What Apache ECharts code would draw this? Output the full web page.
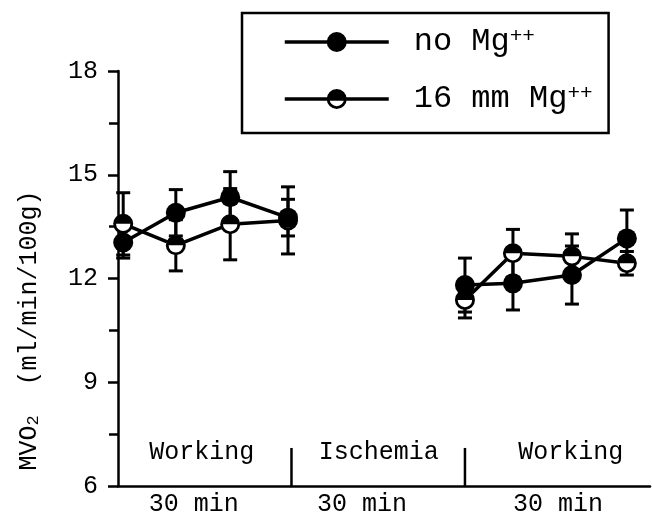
<!DOCTYPE html>
<html>
<head>
<meta charset="utf-8">
<script src="https://cdn.jsdelivr.net/npm/echarts@6/dist/echarts.min.js"></script>
<style>
  html, body { margin: 0; padding: 0; background: #fff; }
  #chart { width: 652px; height: 521px; }
</style>
</head>
<body>
<div id="chart"></div>
<script>
// Myocardial O2 consumption, mean ± error, sampled through working / ischemia / working periods
const sampleMinutes = [0.9, 10, 19.4, 29.4, 60, 68.3, 78.5, 88];
const noMgMean = [13.04, 13.9, 14.35, 13.76, 11.81, 11.86, 12.1, 13.16];
const noMgErr  = [0.45, 0.67, 0.74, 0.53, 0.78, 0.77, 0.84, 0.82];
const mg16Mean = [13.58, 12.96, 13.57, 13.68, 11.38, 12.73, 12.64, 12.44];
const mg16Err  = [0.9, 0.74, 1.03, 0.97, 0.52, 0.69, 0.65, 0.34];
const seriesNames = ['no Mg++', '16 mm Mg++'];

const phaseNames = ['Working', 'Ischemia', 'Working'];
const phaseLabelMinutes = [14.5, 45.1, 78.3];
const phaseBoundaries = [30, 60];
const durationLabels = ['30 min', '30 min', '30 min'];
const durationLabelMinutes = [13.1, 42.2, 76.1];

const FONT = '"Liberation Mono", "DejaVu Sans Mono", monospace';
const INK = '#000';

// ring with the upper half filled
const HALF_FILLED =
  'path://M0,50A50,50,0,1,1,100,50A50,50,0,1,1,0,50Z' +
  'M14,50A36,36,0,1,0,86,50A36,36,0,1,0,14,50Z' +
  'M14,50A36,36,0,0,1,86,50Z';

function points(means) {
  return sampleMinutes.map((m, i) => [m, means[i]]);
}

// polyline data with a break across the ischemic period
function lineData(means) {
  const out = [];
  sampleMinutes.forEach((m, i) => {
    if (i > 0 && m - sampleMinutes[i - 1] > 20) out.push([m, '-']);
    out.push([m, means[i]]);
  });
  return out;
}

function errorBars(means, errs, z) {
  return {
    type: 'custom',
    z: z,
    silent: true,
    data: sampleMinutes.map((m, i) => [m, means[i] - errs[i], means[i] + errs[i]]),
    encode: { x: 0, y: [1, 2] },
    renderItem(params, api) {
      const x = api.value(0);
      const lo = api.coord([x, api.value(1)]);
      const hi = api.coord([x, api.value(2)]);
      const w = 7;
      const style = { stroke: INK, lineWidth: 3 };
      return {
        type: 'group',
        children: [
          { type: 'line', shape: { x1: lo[0], y1: lo[1], x2: hi[0], y2: hi[1] }, style },
          { type: 'line', shape: { x1: lo[0] - w, y1: lo[1], x2: lo[0] + w, y2: lo[1] }, style },
          { type: 'line', shape: { x1: hi[0] - w, y1: hi[1], x2: hi[0] + w, y2: hi[1] }, style }
        ]
      };
    }
  };
}

const chart = echarts.init(document.getElementById('chart'), null, { renderer: 'canvas' });

chart.setOption({
  animation: false,
  backgroundColor: '#fff',
  grid: { left: 118, right: 2, top: 71, bottom: 35 },
  legend: {
    data: seriesNames,
    orient: 'vertical',
    left: 242,
    top: 13,
    itemWidth: 104,
    itemHeight: 25,
    itemGap: 25,
    padding: [13, 16, 18, 41],
    borderColor: INK,
    borderWidth: 2.5,
    selectedMode: false,
    lineStyle: { color: INK, width: 3.5 },
    formatter: (name) => '{g| }{t|' + name.replace('++', '') + '}{s|++}',
    textStyle: {
      color: INK,
      rich: {
        g: { width: 20, fontSize: 32, fontFamily: FONT },
        t: { fontSize: 32, fontFamily: FONT, color: INK },
        s: { fontSize: 21, fontFamily: FONT, color: INK, verticalAlign: 'top' }
      }
    }
  },
  xAxis: {
    type: 'value',
    min: 0,
    max: 92,
    axisLine: { show: true, lineStyle: { color: INK, width: 2.5 } },
    axisTick: { show: false },
    splitLine: { show: false },
    axisLabel: {
      customValues: durationLabelMinutes,
      formatter: (v) => {
        const i = durationLabelMinutes.indexOf(v);
        return i >= 0 ? durationLabels[i] : '';
      },
      color: INK,
      fontFamily: FONT,
      fontSize: 25,
      margin: 6
    }
  },
  yAxis: {
    type: 'value',
    min: 6,
    max: 18,
    interval: 3,
    axisLine: { show: true, lineStyle: { color: INK, width: 2.5 } },
    axisTick: { show: true, length: 10, lineStyle: { color: INK, width: 2.5 } },
    minorTick: { show: true, splitNumber: 2, length: 9, lineStyle: { color: INK, width: 2.5 } },
    splitLine: { show: false },
    axisLabel: { color: INK, fontFamily: FONT, fontSize: 25, margin: 20 },
    name: '{a|MVO}{b|2}{a|  (ml/min/100g)}',
    nameLocation: 'middle',
    nameRotate: 90,
    nameGap: 76,
    nameTextStyle: {
      padding: [0, 104, 0, 0],
      rich: {
        a: { fontSize: 25, fontFamily: FONT, color: INK },
        b: { fontSize: 17, fontFamily: FONT, color: INK, verticalAlign: 'bottom' }
      }
    }
  },
  series: [
    // phase separators rising from the time axis
    {
      type: 'custom',
      z: 2,
      silent: true,
      data: phaseBoundaries.map((b) => [b]),
      encode: { x: 0 },
      renderItem(params, api) {
        const b = api.value(0);
        const p0 = api.coord([b, 6]);
        const p1 = api.coord([b, 7.1]);
        return {
          type: 'line',
          shape: { x1: p0[0], y1: p0[1], x2: p1[0], y2: p1[1] },
          style: { stroke: INK, lineWidth: 2.5 }
        };
      }
    },
    // phase names
    {
      type: 'custom',
      z: 2,
      silent: true,
      data: phaseLabelMinutes.map((m, i) => [m, i]),
      encode: { x: 0 },
      renderItem(params, api) {
        const p = api.coord([api.value(0), 6.98]);
        return {
          type: 'text',
          x: p[0],
          y: p[1],
          style: {
            text: phaseNames[api.value(1)],
            fill: INK,
            fontSize: 25,
            fontFamily: FONT,
            align: 'center',
            verticalAlign: 'middle'
          }
        };
      }
    },
    errorBars(mg16Mean, mg16Err, 2),
    errorBars(noMgMean, noMgErr, 2),
    {
      name: seriesNames[1],
      type: 'line',
      z: 3,
      data: lineData(mg16Mean),
      symbol: HALF_FILLED,
      symbolSize: 20,
      showSymbol: false,
      connectNulls: false,
      lineStyle: { color: INK, width: 3.5 },
      itemStyle: { color: INK },
      silent: true
    },
    {
      name: seriesNames[0],
      type: 'line',
      z: 3,
      data: lineData(noMgMean),
      symbol: 'circle',
      symbolSize: 20,
      showSymbol: false,
      connectNulls: false,
      lineStyle: { color: INK, width: 3.5 },
      itemStyle: { color: INK },
      silent: true
    },
    {
      name: 'mg16-face',
      type: 'scatter',
      z: 4,
      data: points(mg16Mean),
      symbol: 'circle',
      symbolSize: 19,
      itemStyle: { color: '#fff', opacity: 1 },
      silent: true
    },
    {
      name: 'mg16-mark',
      type: 'scatter',
      z: 5,
      data: points(mg16Mean),
      symbol: HALF_FILLED,
      symbolSize: 20,
      itemStyle: { color: INK, opacity: 1 },
      silent: true
    },
    {
      name: 'nomg-mark',
      type: 'scatter',
      z: 6,
      data: points(noMgMean),
      symbol: 'circle',
      symbolSize: 20,
      itemStyle: { color: INK, opacity: 1 },
      silent: true
    }
  ]
});
</script>
</body>
</html>
